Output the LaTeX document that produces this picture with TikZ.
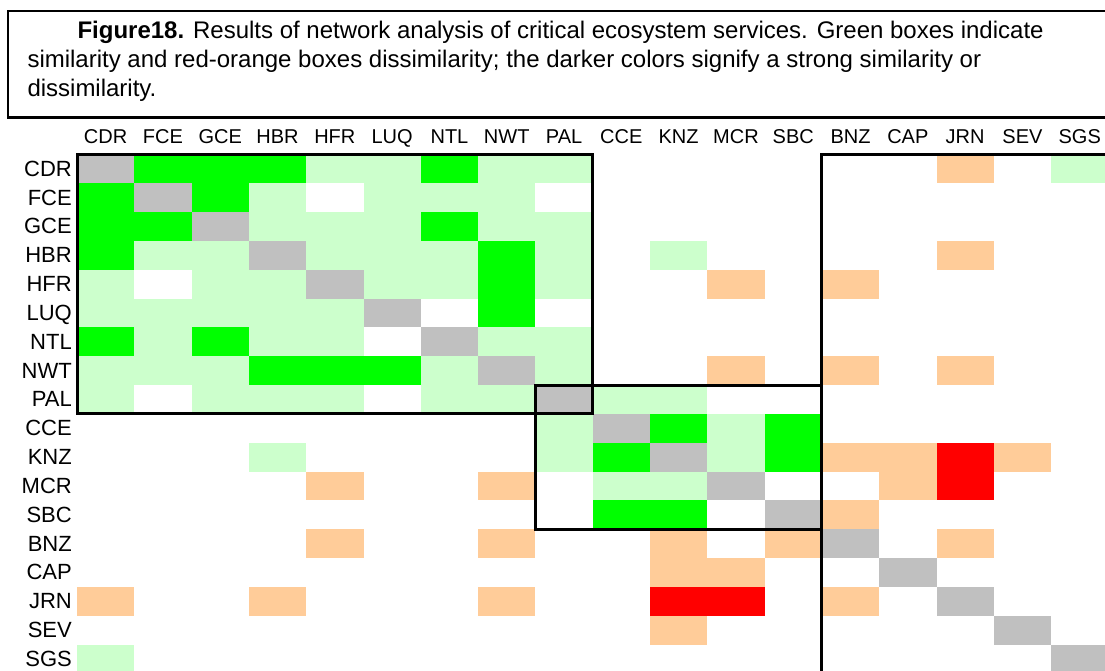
\documentclass[tikz,border=0pt]{standalone}
\usepackage{fontspec}
\setmainfont{Liberation Sans}
\usetikzlibrary{positioning}
\definecolor{strongsim}{HTML}{00FF00}
\definecolor{weaksim}{HTML}{CCFFCC}
\definecolor{weakdis}{HTML}{FFCC99}
\definecolor{strongdis}{HTML}{FF0000}
\definecolor{selfcell}{HTML}{C0C0C0}
\tikzset{
  hmS/.style={fill=strongsim},
  hms/.style={fill=weaksim},
  hmd/.style={fill=weakdis},
  hmD/.style={fill=strongdis},
  hmx/.style={fill=selfcell},
  hmn/.style={},
  groupbox/.style={draw=black, line width=3pt},
  captionbox/.style={draw=black, line width=2.5pt},
  captext/.style={font=\fontsize{24}{28}\selectfont, inner sep=0pt, anchor=base west},
  collabel/.style={font=\fontsize{20}{24}\selectfont, inner sep=0pt, anchor=base},
  rowlabel/.style={font=\fontsize{22}{26}\selectfont, inner sep=0pt, anchor=base east}
}

\begin{document}
\begin{tikzpicture}[x=1pt, y=-1pt]
  \useasboundingbox (0,0) rectangle (1105,671);
  \clip (0,0) rectangle (1105,671);
  \fill[white] (0,0) rectangle (1105,671);
  \draw[captionbox] (8,10.8) rectangle (1120,117.3);
  \node[captext] (cap1) at (77.3,39) {\textbf{Figure18.} Results of network analysis of critical ecosystem services. Green boxes indicate};
  \node[captext] (cap2) at (27.3,68) {similarity and red-orange boxes dissimilarity; the darker colors signify a strong similarity or};
  \node[captext] (cap3) at (27.3,96.5) {dissimilarity.};
  \foreach \hmrow [count=\r from 0] in {
    {x,S,S,S,s,s,S,s,s,n,n,n,n,n,n,d,n,s},
    {S,x,S,s,n,s,s,s,n,n,n,n,n,n,n,n,n,n},
    {S,S,x,s,s,s,S,s,s,n,n,n,n,n,n,n,n,n},
    {S,s,s,x,s,s,s,S,s,n,s,n,n,n,n,d,n,n},
    {s,n,s,s,x,s,s,S,s,n,n,d,n,d,n,n,n,n},
    {s,s,s,s,s,x,n,S,n,n,n,n,n,n,n,n,n,n},
    {S,s,S,s,s,n,x,s,s,n,n,n,n,n,n,n,n,n},
    {s,s,s,S,S,S,s,x,s,n,n,d,n,d,n,d,n,n},
    {s,n,s,s,s,n,s,s,x,s,s,n,n,n,n,n,n,n},
    {n,n,n,n,n,n,n,n,s,x,S,s,S,n,n,n,n,n},
    {n,n,n,s,n,n,n,n,s,S,x,s,S,d,d,D,d,n},
    {n,n,n,n,d,n,n,d,n,s,s,x,n,n,d,D,n,n},
    {n,n,n,n,n,n,n,n,n,S,S,n,x,d,n,n,n,n},
    {n,n,n,n,d,n,n,d,n,n,d,n,d,x,n,d,n,n},
    {n,n,n,n,n,n,n,n,n,n,d,d,n,n,x,n,n,n},
    {d,n,n,d,n,n,n,d,n,n,D,D,n,d,n,x,n,n},
    {n,n,n,n,n,n,n,n,n,n,d,n,n,n,n,n,x,n},
    {s,n,n,n,n,n,n,n,n,n,n,n,n,n,n,n,n,x}}{
    \foreach \k [count=\c from 0] in \hmrow {
      \path[hm\k] ({77+57.3*\c},{154.3+28.84*\r}) rectangle ++(57.3,28.84);
    }
  }
  \foreach \n [count=\i from 0] in {CDR,FCE,GCE,HBR,HFR,LUQ,NTL,NWT,PAL,CCE,KNZ,MCR,SBC,BNZ,CAP,JRN,SEV,SGS}{
    \node[collabel] (col-\n) at ({77+57.3*(\i+0.5)},144) {\n};
    \node[rowlabel] (row-\n) at (72,{154.3+28.84*(\i+0.5)+7.5}) {\n};
  }
  \draw[groupbox] (77,154.3) rectangle (592.7,413.9);
  \draw[groupbox] (535.4,385) rectangle (821.9,529.2);
  \draw[groupbox] (821.9,154.3) rectangle (1140,690);
\end{tikzpicture}
\end{document}
